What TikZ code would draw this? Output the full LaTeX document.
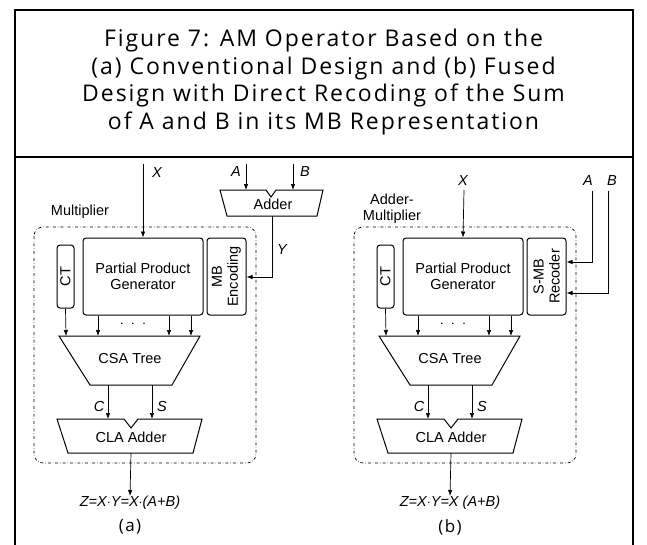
\documentclass[tikz,border=0pt]{standalone}
\usepackage{fontspec}
\setmainfont{Liberation Sans}
\newfontfamily\titlefont[LetterSpace=8.5]{Open Sans}
\usetikzlibrary{arrows.meta}
\tikzset{
  box/.style={draw, rounded corners=3pt, line width=1pt, inner sep=0pt},
  lbl/.style={font=\fontsize{14.5}{16}\selectfont, inner sep=0pt},
  ilbl/.style={font=\fontsize{14.5}{16}\selectfont\itshape, inner sep=0pt},
  arr/.style={-{Latex[length=6pt,width=4.5pt]}, line width=0.7pt},
  wire/.style={line width=0.7pt},
  trap/.style={draw, line width=1pt, line join=miter},
  grp/.style={draw, dash dot, rounded corners=9pt, line width=0.7pt},
  ttl/.style={font=\titlefont\fontsize{23}{27.4}\selectfont, align=center, inner sep=0pt},
  sub/.style={font=\titlefont\fontsize{17}{19}\selectfont, inner sep=0pt},
}
\newcommand{\amcore}[3]{%
  \draw[grp] (34,227) rectangle (256,463);
  \node[box, lbl, minimum width=120pt, minimum height=77pt, align=center] (#1ppg) at (143,276.5) {Partial Product\\Generator};
  \node[box, minimum width=17pt, minimum height=63pt] (#1ct) at (65.5,276.5) {};
  \node[lbl, rotate=90] (#1ctt) at (#1ct) {CT};
  \node[box, minimum width=39pt, minimum height=77pt] (#1mb) at (226.5,276.5) {};
  \node[lbl, rotate=90, align=center] (#1mbt) at (#1mb) {#3};
  \draw[trap] (59,336) -- (200,336) -- (172,385) -- (90,385) -- cycle;
  \node[lbl] (#1csa) at (130,359) {CSA Tree};
  \draw[trap] (57,419) -- (124,419) -- (131,428) -- (138,419) -- (202,419) -- (193,453) -- (68,453) -- cycle;
  \node[lbl] (#1cla) at (131,437) {CLA Adder};
  \coordinate (#1i1) at (66,336);
  \coordinate (#1i2) at (98,336);
  \coordinate (#1i3) at (169,336);
  \coordinate (#1i4) at (191,336);
  \coordinate (#1c0) at (108,385);
  \coordinate (#1c1) at (108,419);
  \coordinate (#1s0) at (152,385);
  \coordinate (#1s1) at (152,419);
  \coordinate (#1o0) at (131,453);
  \draw[arr] (#1ct.south) -- (#1i1);
  \draw[arr] (#1ppg.south -| #1i2) -- (#1i2);
  \draw[arr] (#1ppg.south -| #1i3) -- (#1i3);
  \draw[arr] (#1ppg.south -| #1i4) -- (#1i4);
  \node[lbl] (#1dots) at (133,324) {$\cdot\;\cdot\;\cdot$};
  \draw[arr] (#1c0) -- (#1c1);
  \draw[arr] (#1s0) -- (#1s1);
  \node[ilbl] (#1cl) at (99,406) {C};
  \node[ilbl] (#1sl) at (162,406) {S};
  \node[ilbl, anchor=north] (#1z) at (130,496) {#2};
  \draw[arr] (#1o0) -- (#1z.north);
}
\begin{document}
\begin{tikzpicture}[x=1pt,y=-1pt]
\useasboundingbox (0,0) rectangle (647,544);
\clip (0,0) rectangle (647,544);
\fill[white] (0,0) rectangle (647,544);
\draw[line width=1.3pt] (15,10) rectangle (633,560);
\draw[line width=2.2pt] (15,157) -- (633,157);
\node[ttl] (title) at (323.5,82) {Figure 7: AM Operator Based on the\\(a) Conventional Design and (b) Fused\\Design with Direct Recoding of the Sum\\of A and B in its MB Representation};
% ---------- panel (a)
\amcore{a}{Z=X$\cdot$Y=X$\cdot$(A+B)}{MB\\Encoding}
\node[sub] (alab) at (130,527) {(a)};
\node[lbl] (amul) at (80,212) {Multiplier};
\node[ilbl] (axl) at (157,173) {X};
\coordinate (ax0) at (143,164);
\draw[arr] (ax0) -- (appg.north);
\draw[trap] (220,190) -- (266,190) -- (271,197) -- (276,190) -- (323,190) -- (317,216) -- (227,216) -- cycle;
\node[lbl] (aadd) at (273,204) {Adder};
\coordinate (aa0) at (246,164);
\coordinate (aa1) at (246,190);
\coordinate (ab0) at (293,164);
\coordinate (ab1) at (293,190);
\draw[arr] (aa0) -- (aa1);
\draw[arr] (ab0) -- (ab1);
\node[ilbl] (aal) at (236,172) {A};
\node[ilbl] (abl) at (305,172) {B};
\coordinate (ay0) at (272,216);
\coordinate (ay1) at (272,277);
\draw[arr] (ay0) -- (ay1) -- (amb.east |- ay1);
\node[ilbl] (ayl) at (282,250) {Y};
% ---------- panel (b)
\begin{scope}[xshift=320pt]
\amcore{b}{Z=X$\cdot$Y=X (A+B)}{S-MB\\Recoder}
\node[sub] (blab) at (130,527) {(b)};
\node[lbl, align=center] (bmul) at (72,209) {Adder-\\Multiplier};
\node[ilbl] (bxl) at (143,181) {X};
\coordinate (bx0) at (144,190);
\draw[arr] (bx0) -- (bppg.north);
\node[ilbl] (bal) at (268,181) {A};
\node[ilbl] (bbl) at (292,181) {B};
\coordinate (ba0) at (272,191);
\coordinate (ba1) at (272,262);
\coordinate (bb0) at (288,191);
\coordinate (bb1) at (288,293);
\draw[arr] (ba0) -- (ba1) -- (bmb.east |- ba1);
\draw[arr] (bb0) -- (bb1) -- (bmb.east |- bb1);
\end{scope}
\end{tikzpicture}
\end{document}
